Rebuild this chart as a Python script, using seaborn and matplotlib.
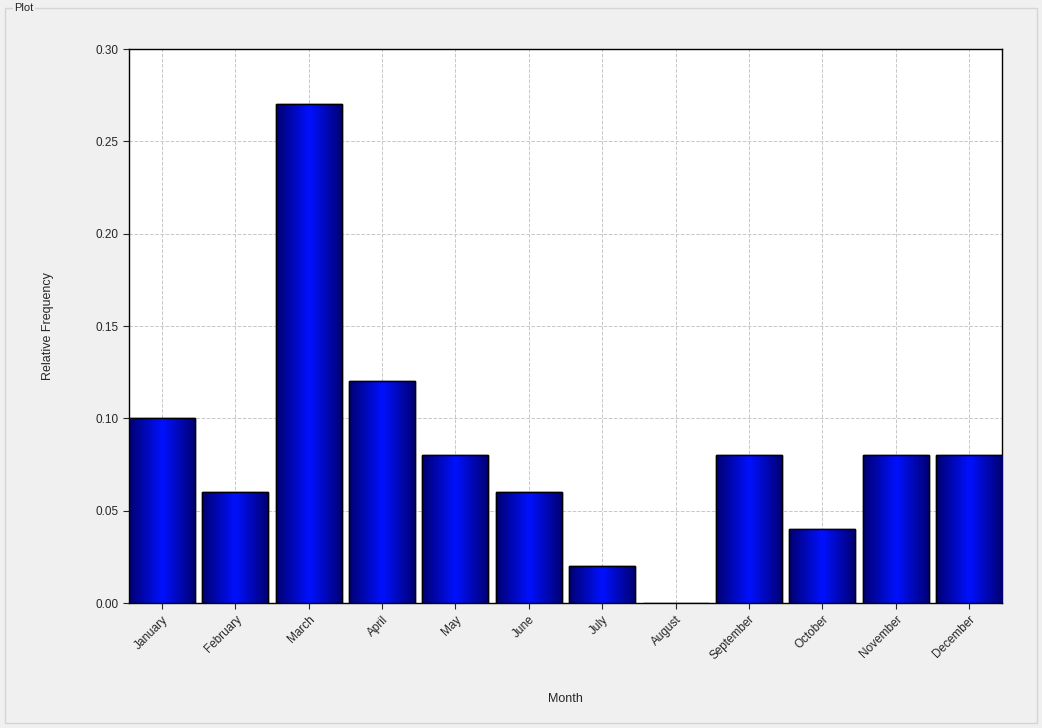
import matplotlib
matplotlib.use("Agg")
import matplotlib.pyplot as plt
import seaborn as sns
import numpy as np
import pandas as pd
from matplotlib.patches import Rectangle

months = ["January","February","March","April","May","June","July","August",
          "September","October","November","December"]
freq = [0.10,0.06,0.27,0.12,0.08,0.06,0.02,0.0,0.08,0.04,0.08,0.08]
df = pd.DataFrame({"Month": months, "Relative Frequency": freq})

sns.set_style("white")
plt.rcParams['font.family'] = ['Liberation Sans', 'DejaVu Sans']
fig = plt.figure(figsize=(10.42, 7.28), dpi=100, facecolor="#f0f0f0")
# group box
fig.patches.append(Rectangle((5/1042, 1-723/728), 1032/1042, 715/728, transform=fig.transFigure,
                             fill=False, edgecolor="#d5d5d5", lw=1))
fig.text(14/1042, 1-8/728, "Plot", fontsize=8, va="center", ha="left",
         bbox=dict(facecolor="#f0f0f0", edgecolor="none", pad=1))

ax = fig.add_axes([129/1042, 1-603/728, 873/1042, 554/728])
ax.set_facecolor("white")
sns.barplot(data=df, x="Month", y="Relative Frequency", ax=ax, width=0.9,
            color="blue", edgecolor="black", linewidth=1, zorder=3)

grad = np.abs(np.linspace(-1, 1, 256))
cm = matplotlib.colors.LinearSegmentedColormap.from_list("g", ["#0010ff", "#000070"])
for p in ax.patches:
    x0, y0, w, h = p.get_x(), p.get_y(), p.get_width(), p.get_height()
    if h <= 0:
        continue
    im = ax.imshow(grad[None, :], cmap=cm, aspect="auto", extent=[x0, x0+w, y0, y0+h],
                   zorder=3.5, vmin=0, vmax=1)
    im.set_clip_path(p)
    ax.add_patch(Rectangle((x0, y0), w, h, fill=False, edgecolor="black", lw=1, zorder=4))

ax.set_xlim(-0.45, 11.45)
ax.set_ylim(0, 0.30)
ax.set_yticks(np.arange(0, 0.31, 0.05))
ax.set_yticklabels([f"{v:.2f}" for v in np.arange(0, 0.31, 0.05)], fontsize=8.5)
ax.tick_params(axis="both", length=4, direction="out", left=True, bottom=True)
plt.setp(ax.get_xticklabels(), rotation=45, ha="right", rotation_mode="anchor", fontsize=8.5)
ax.grid(True, color="#c8c8c8", linestyle="--", linewidth=0.7, zorder=0)
ax.set_axisbelow(True)
for s in ax.spines.values():
    s.set_color("black"); s.set_linewidth(1)
ax.set_xlabel("Month", fontsize=9, labelpad=22)
ax.set_ylabel("Relative Frequency", fontsize=9, labelpad=30)
fig.savefig("out.png", dpi=100, facecolor=fig.get_facecolor())
